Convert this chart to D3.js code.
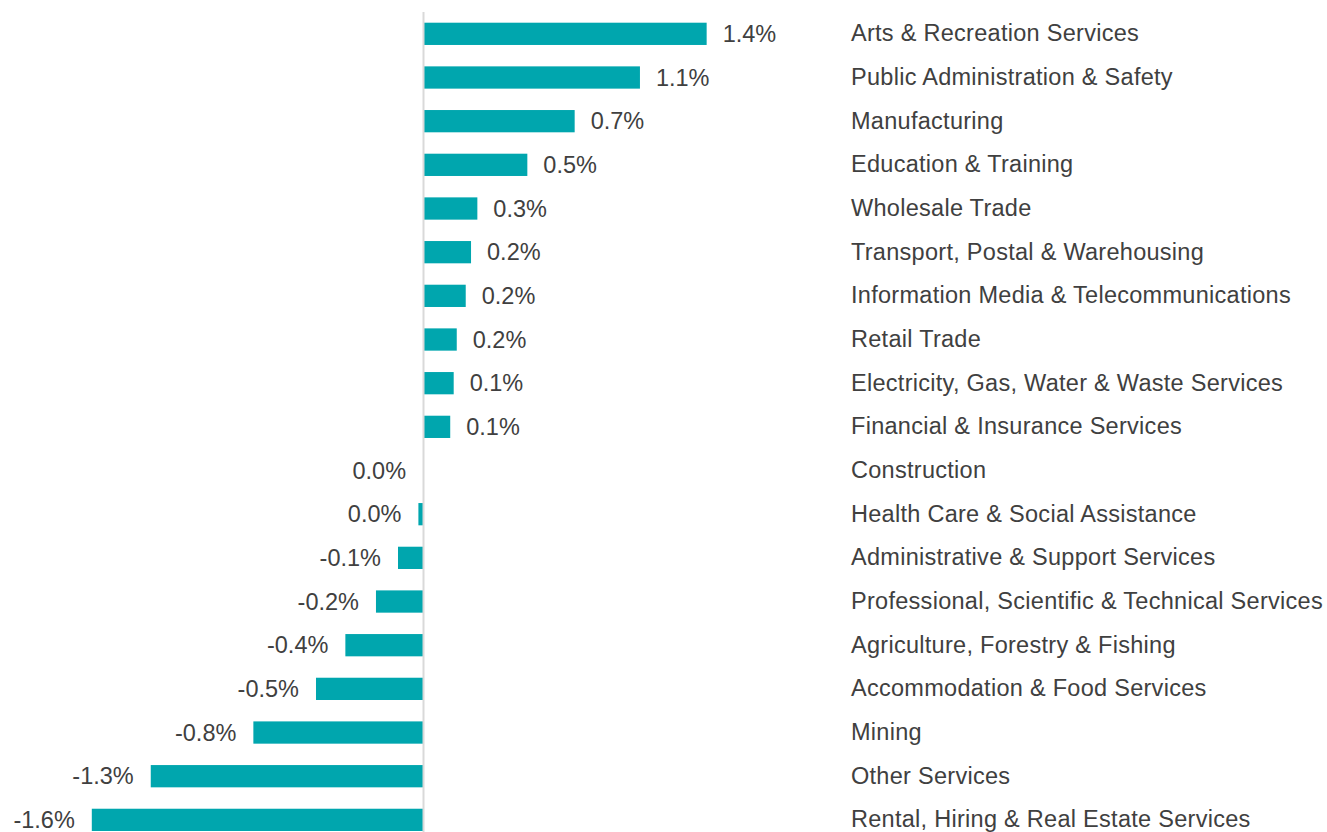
<!DOCTYPE html>
<html>
<head>
<meta charset="utf-8">
<script src="https://cdn.jsdelivr.net/npm/d3@7"></script>
<style>
  body { margin: 0; background: #ffffff; }
  text { font-family: "Liberation Sans", Arial, sans-serif; fill: #404040; }
</style>
</head>
<body>
<div id="main"></div>
<script>
// chart data (percent change by industry)
const industries = [
  'Arts & Recreation Services',
  'Public Administration & Safety',
  'Manufacturing',
  'Education & Training',
  'Wholesale Trade',
  'Transport, Postal & Warehousing',
  'Information Media & Telecommunications',
  'Retail Trade',
  'Electricity, Gas, Water & Waste Services',
  'Financial & Insurance Services',
  'Construction',
  'Health Care & Social Assistance',
  'Administrative & Support Services',
  'Professional, Scientific & Technical Services',
  'Agriculture, Forestry & Fishing',
  'Accommodation & Food Services',
  'Mining',
  'Other Services',
  'Rental, Hiring & Real Estate Services'
];
const changes = [
  1.388, 1.061, 0.741, 0.509, 0.264, 0.233, 0.207, 0.163, 0.148, 0.131,
  -0.002, -0.025, -0.125, -0.233, -0.383, -0.527, -0.834, -1.337, -1.626
];
const xDomain = [-2, 2];

// global variables
const svgWidth = 1327;
const svgHeight = 832;
const barColor = '#00a6ae';
const fontSize = 23.5;

const dataset = industries.map((name, i) => ({ name: name, value: changes[i] }));

const locale = d3.formatLocale({ decimal: '.', thousands: ',', grouping: [3], currency: ['$', ''], minus: '-' });
const fmt = locale.format('.1f');

const svg = d3.select('#main')
  .append('svg')
  .attr('width', svgWidth)
  .attr('height', svgHeight);

const xScale = d3.scaleLinear()
  .domain(xDomain)
  .range([15.5, 831.5]);

const yScale = d3.scaleBand()
  .domain(industries)
  .range([12, 841.7])
  .paddingInner(0.49)
  .paddingOuter(0.245);

// bars
svg.append('g').selectAll('rect')
  .data(dataset)
  .enter()
  .append('rect')
  .attr('fill', barColor)
  .attr('x', (d) => xScale(Math.min(0, d.value)))
  .attr('y', (d) => yScale(d.name))
  .attr('width', (d) => Math.abs(xScale(d.value) - xScale(0)))
  .attr('height', yScale.bandwidth());

// zero line
svg.append('line')
  .attr('x1', xScale(0))
  .attr('x2', xScale(0))
  .attr('y1', yScale.range()[0])
  .attr('y2', yScale.range()[1])
  .attr('stroke', '#d9d9d9')
  .attr('stroke-width', 2);

// value labels
svg.append('g').selectAll('text')
  .data(dataset)
  .enter()
  .append('text')
  .attr('x', (d) => d.value > 0 ? xScale(d.value) + 16 : xScale(d.value) - 17)
  .attr('y', (d) => yScale(d.name) + yScale.bandwidth() / 2)
  .attr('dy', '0.35em')
  .attr('text-anchor', (d) => d.value > 0 ? 'start' : 'end')
  .style('font-size', fontSize + 'px')
  .text((d) => fmt(d.value) + '%');

// category labels on the right
const yAxis = svg.append('g')
  .attr('transform', 'translate(851, 0)')
  .call(d3.axisRight(yScale).tickSize(0).tickPadding(0));
yAxis.select('.domain').remove();
yAxis.selectAll('text')
  .attr('fill', '#404040')
  .style('font-family', '"Liberation Sans", Arial, sans-serif')
  .style('font-size', fontSize + 'px')
  .style('letter-spacing', '0.28px');
</script>
</body>
</html>
